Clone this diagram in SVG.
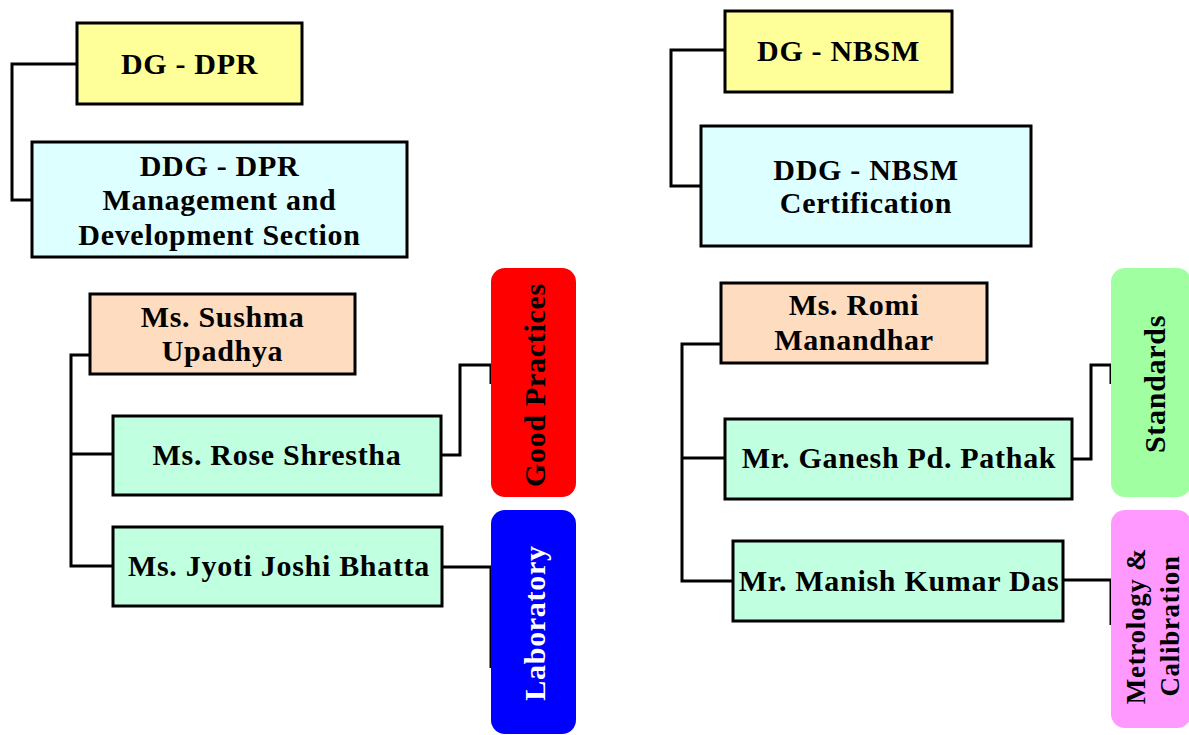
<svg xmlns="http://www.w3.org/2000/svg" width="1189" height="735" viewBox="0 0 1189 735">
<style>
text{font-family:"Liberation Serif","Times New Roman",serif;font-weight:bold;font-size:30px;fill:#000;text-anchor:middle;letter-spacing:0.7px}
.box{stroke:#000;stroke-width:3}
.dg{fill:#FFFF99}
.ddg{fill:#DDFFFF}
.lead{fill:#FDDCBF}
.mem{fill:#C0FFE0}
.conn path{fill:none;stroke:#000;stroke-width:3}
</style>
<rect width="1189" height="735" fill="#fff"/>
<g class="conn">
<path d="M77,64 H12 V200 H32"/>
<path d="M725,50 H671 V186 H701"/>
<path d="M90,355 H71 V566 H113 M71,454 H113"/>
<path d="M441,455 H460 V365 H491 V384"/>
<path d="M443,567 H491 V668"/>
<path d="M722,344 H682 V581 H733 M682,458 H725"/>
<path d="M1072,459 H1091 V365 H1111 V384"/>
<path d="M1063,580 H1111 V625"/>
</g>
<g id="dg-dpr"><rect class="box dg" x="77" y="23" width="225" height="81"/><text x="189.5" y="74">DG - DPR</text></g>
<g id="ddg-dpr"><rect class="box ddg" x="32" y="142" width="375" height="115"/><text x="219.5" y="176">DDG - DPR</text><text x="219.5" y="210">Management and</text><text x="219.5" y="245">Development Section</text></g>
<g id="dg-nbsm"><rect class="box dg" x="725" y="11" width="227" height="81"/><text x="838.5" y="61">DG - NBSM</text></g>
<g id="ddg-nbsm"><rect class="box ddg" x="701" y="126" width="330" height="120"/><text x="866" y="180">DDG - NBSM</text><text x="866" y="213">Certification</text></g>
<g id="sushma"><rect class="box lead" x="90" y="294" width="265" height="80"/><text x="222.5" y="327">Ms. Sushma</text><text x="222.5" y="361">Upadhya</text></g>
<g id="rose"><rect class="box mem" x="113" y="416" width="328" height="79"/><text x="277" y="465">Ms. Rose Shrestha</text></g>
<g id="jyoti"><rect class="box mem" x="113" y="527" width="329" height="79"/><text x="279" y="576">Ms. Jyoti Joshi Bhatta</text></g>
<g id="romi"><rect class="box lead" x="721" y="283" width="266" height="80"/><text x="854" y="315">Ms. Romi</text><text x="854" y="350">Manandhar</text></g>
<g id="ganesh"><rect class="box mem" x="725" y="419" width="347" height="80"/><text x="899" y="468">Mr. Ganesh Pd. Pathak</text></g>
<g id="manish"><rect class="box mem" x="733" y="541" width="330" height="80"/><text x="899" y="591">Mr. Manish Kumar Das</text></g>
<g id="good-practices"><rect x="491" y="268" width="85" height="229" rx="14" fill="#FF0000"/><text transform="translate(545,385) rotate(-90)">Good Practices</text></g>
<g id="laboratory"><rect x="491" y="510" width="85" height="224" rx="14" fill="#0000FF"/><text transform="translate(545,623) rotate(-90)" style="fill:#fff">Laboratory</text></g>
<g id="standards"><rect x="1111" y="268" width="80" height="229" rx="14" fill="#A0FFA0"/><text transform="translate(1165,384) rotate(-90)">Standards</text></g>
<g id="metrology"><rect x="1111" y="510" width="80" height="218" rx="14" fill="#FF99FF"/><text transform="translate(1145,626) rotate(-90)" style="font-size:27px"><tspan x="0" y="0">Metrology &amp;</tspan><tspan x="0" y="34">Calibration</tspan></text></g>
</svg>
